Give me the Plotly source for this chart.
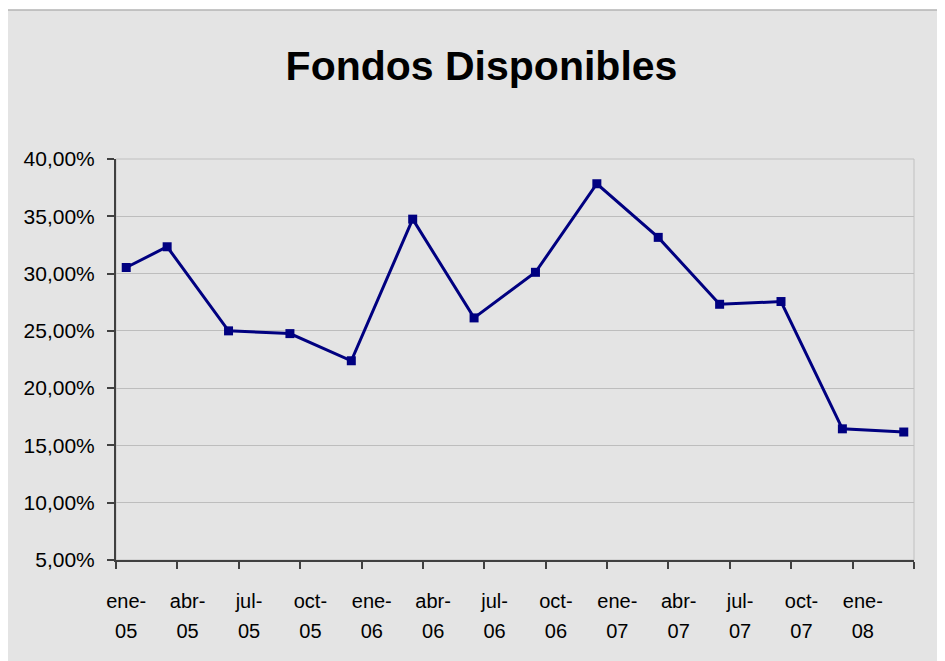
import plotly.graph_objects as go

# ---- data ----
months = ["2005-01", "2005-03", "2005-06", "2005-09", "2005-12", "2006-03", "2006-06",
          "2006-09", "2006-12", "2007-03", "2007-06", "2007-09", "2007-12", "2008-03"]
values_pct = [30.53, 32.34, 25.00, 24.76, 22.39, 34.75, 26.13,
              30.11, 37.84, 33.16, 27.32, 27.56, 16.45, 16.17]
tick_labels = ["ene-05", "abr-05", "jul-05", "oct-05", "ene-06", "abr-06", "jul-06",
               "oct-06", "ene-07", "abr-07", "jul-07", "oct-07", "ene-08"]
y_ticks_pct = [5, 10, 15, 20, 25, 30, 35, 40]
title_text = "Fondos Disponibles"

# month index from Jan 2005 (date axis with monthly base unit, like Excel)
def month_index(s):
    y, m = s.split("-")
    return (int(y) - 2005) * 12 + int(m) - 1

x_vals = [month_index(m) for m in months]
y_vals = [v / 100 for v in values_pct]
label_pos = [3 * i for i in range(len(tick_labels))]
tick_bounds = [3 * i - 0.5 for i in range(len(tick_labels) + 1)]
line1 = [t.split("-")[0] + "-" for t in tick_labels]
line2 = [t.split("-")[1] for t in tick_labels]

OFF = 8  # page body margin
W, H = 945 - OFF, 661 - OFF
L, R, T, B = 116 - OFF, 914 - OFF, 159 - OFF, 560 - OFF
pw, ph = R - L, B - T

font_family = "Liberation Sans, Arial, sans-serif"

fig = go.Figure()
fig.add_trace(go.Scatter(
    x=x_vals, y=y_vals, mode="lines+markers",
    line=dict(color="#000080", width=3),
    marker=dict(symbol="square", size=9, color="#000080"),
    showlegend=False, hoverinfo="skip",
))
# invisible companion trace so the second-line label axis is drawn
fig.add_trace(go.Scatter(
    x=x_vals, y=y_vals, xaxis="x2", mode="lines", opacity=0,
    line=dict(width=0), showlegend=False, hoverinfo="skip",
))

xrange = [-0.5, 3 * len(tick_labels) - 0.5]

fig.update_layout(
    width=W, height=H,
    margin=dict(l=L, r=W - R, t=T, b=H - B, pad=0),
    paper_bgcolor="white",
    plot_bgcolor="rgba(0,0,0,0)",
    separators=",.",
    font=dict(family=font_family, size=20, color="black"),
    title=dict(text="<b>" + title_text + "</b>", x=(481.5 - OFF) / W, xanchor="center",
               y=1 - (66 - OFF) / H, yanchor="middle", xref="container", yref="container",
               font=dict(size=41, family=font_family, color="black")),
    xaxis=dict(
        range=xrange, showgrid=False, zeroline=False,
        showline=True, linecolor="#404040", linewidth=2,
        tickmode="array", tickvals=label_pos, ticktext=line1,
        ticks="", ticklabelstandoff=22,
        minor=dict(tickmode="array", tickvals=tick_bounds, ticks="outside",
                   ticklen=7, tickwidth=1.5, tickcolor="#404040", showgrid=False),
        tickfont=dict(size=20),
    ),
    xaxis2=dict(
        range=xrange, overlaying="x", anchor="y", side="bottom",
        showgrid=False, zeroline=False, showline=False,
        tickmode="array", tickvals=label_pos, ticktext=line2,
        ticks="", ticklabelstandoff=57, tickfont=dict(size=20),
    ),
    yaxis=dict(
        range=[0.05, 0.40], tickmode="array", tickvals=[v / 100 for v in y_ticks_pct],
        tickformat=".2%", showgrid=True, gridcolor="#bdbdbd", gridwidth=1,
        zeroline=False, showline=True, linecolor="#404040", linewidth=2,
        ticks="outside", ticklen=7, tickwidth=1.5, tickcolor="#404040",
        ticklabelstandoff=8, tickfont=dict(size=21),
    ),
    shapes=[
        dict(type="rect", xref="paper", yref="paper", layer="below",
             x0=(5 - 116) / pw, x1=(W + 10 - L) / pw,
             y0=(B - (H + 10)) / ph, y1=(560 - 10) / ph,
             fillcolor="#e4e4e4", line=dict(color="#b4b4b4", width=1.5)),
        dict(type="rect", xref="paper", yref="paper", layer="below",
             x0=0, x1=1, y0=0, y1=1,
             line=dict(color="#c0c0c0", width=1)),
    ],
)

fig.write_html("out.html")
